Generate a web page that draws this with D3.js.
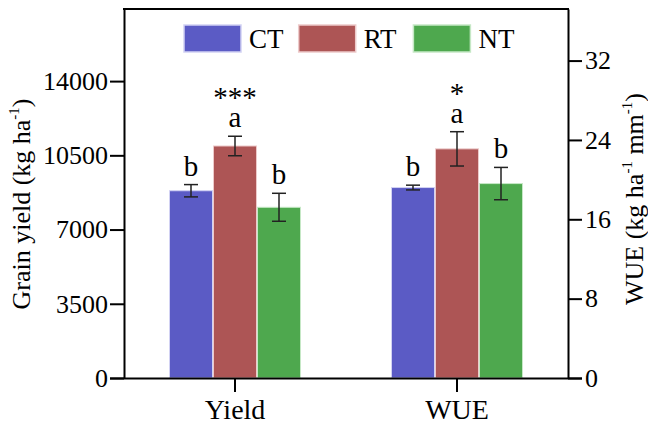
<!DOCTYPE html>
<html>
<head>
<meta charset="utf-8">
<script src="https://cdn.jsdelivr.net/npm/d3@7"></script>
</head>
<body style="margin:0;background:#fff">
<svg id="chart" width="648" height="426" style="display:block"></svg>
<script>
// Grain yield and water use efficiency under three tillage systems
const categories = ["Yield", "WUE"];
const series = ["CT", "RT", "NT"];
const seriesColors = ["#5b5bc5", "#ad5555", "#4ea84e"];
const seriesEdges = ["#d2d2f3", "#edcaca", "#c6e8c6"];

const yieldMean = [8830, 10940, 8050];
const yieldErr = [290, 460, 660];
const wueMean = [19.2, 23.1, 19.6];
const wueErr = [0.24, 1.73, 1.63];

const yieldLetters = ["b", "a", "b"];
const wueLetters = ["b", "a", "b"];
const stars = ["***", "*"];

const leftTicks = [0, 3500, 7000, 10500, 14000];
const rightTicks = [0, 8, 16, 24, 32];

const FONT = "'Liberation Serif', 'Times New Roman', Tinos, serif";

const svg = d3.select("#chart");
const margin = { left: 124, right: 80, top: 9, bottom: 48 };
const W = 648, H = 426;
const x0 = margin.left, x1 = W - margin.right, yTop = margin.top, yBot = H - margin.bottom;

const xGroup = d3.scaleBand().domain(categories).range([x0, x1]).padding(0);
const xSub = d3.scaleBand().domain(series).range([-66, 66]).padding(0);
const yLeft = d3.scaleLinear().domain([0, 17400]).range([yBot, yTop]);
const yRight = d3.scaleLinear().domain([0, 37.2]).range([yBot, yTop]);

// assemble bar records from the arrays
const groups = [
  { cat: "Yield", mean: yieldMean, err: yieldErr, letters: yieldLetters, star: stars[0], y: yLeft },
  { cat: "WUE", mean: wueMean, err: wueErr, letters: wueLetters, star: stars[1], y: yRight }
];
const bars = [];
groups.forEach(g => series.forEach((s, i) => bars.push({
  cat: g.cat, s, i, v: g.mean[i], e: g.err[i], letter: g.letters[i], y: g.y
})));

const cx = d => xGroup(d.cat) + xGroup.bandwidth() / 2 + xSub(d.s) + xSub.bandwidth() / 2;

// bars
svg.append("g").selectAll("rect").data(bars).join("rect")
  .attr("x", d => xGroup(d.cat) + xGroup.bandwidth() / 2 + xSub(d.s) + 0.5)
  .attr("width", xSub.bandwidth() - 1)
  .attr("y", d => d.y(d.v))
  .attr("height", d => d.y(0) - d.y(d.v))
  .attr("fill", d => seriesColors[d.i])
  .attr("stroke", d => seriesEdges[d.i])
  .attr("stroke-width", 1);

// error bars
const eb = svg.append("g").attr("stroke", "#222").attr("stroke-width", 1.5).attr("fill", "none");
bars.forEach(d => {
  const c = cx(d), t = d.y(d.v + d.e), b = d.y(d.v - d.e);
  eb.append("line").attr("x1", c).attr("x2", c).attr("y1", t).attr("y2", b);
  eb.append("line").attr("x1", c - 7).attr("x2", c + 7).attr("y1", t).attr("y2", t);
  eb.append("line").attr("x1", c - 7).attr("x2", c + 7).attr("y1", b).attr("y2", b);
});

// significance letters
svg.append("g").selectAll("text").data(bars).join("text")
  .attr("x", cx)
  .attr("y", d => d.y(d.v + d.e) - 9)
  .attr("text-anchor", "middle")
  .style("font-size", "29px")
  .text(d => d.letter);

// significance stars over the RT bars
groups.forEach(g => {
  const d = bars.find(b => b.cat === g.cat && b.s === "RT");
  svg.append("text")
    .attr("x", cx(d))
    .attr("y", d.y(d.v + d.e) - 9 - 20)
    .attr("text-anchor", "middle")
    .style("font-size", "29px")
    .text(g.star);
});

// top frame line
svg.append("line").attr("x1", x0 - 1).attr("x2", x1 + 1).attr("y1", yTop).attr("y2", yTop)
  .attr("stroke", "#000").attr("stroke-width", 2);

function styleAxis(g, size) {
  g.selectAll("path.domain").attr("stroke", "#000").attr("stroke-width", 2);
  g.selectAll(".tick line").attr("stroke", "#000").attr("stroke-width", 2);
  g.selectAll(".tick text").style("font-size", size + "px");
}

// left axis
svg.append("g").attr("transform", `translate(${x0},0)`)
  .call(d3.axisLeft(yLeft).tickValues(leftTicks).tickSize(14).tickSizeOuter(0).tickPadding(2).tickFormat(d3.format("d")))
  .call(styleAxis, 26);

// right axis
svg.append("g").attr("transform", `translate(${x1},0)`)
  .call(d3.axisRight(yRight).tickValues(rightTicks).tickSize(14).tickSizeOuter(0).tickPadding(3).tickFormat(d3.format("d")))
  .call(styleAxis, 26);

// bottom axis
const bx = svg.append("g").attr("transform", `translate(0,${yBot})`)
  .call(d3.axisBottom(xGroup).tickSize(14).tickSizeOuter(0).tickPadding(7))
  .call(styleAxis, 28);
bx.select("path.domain").attr("d", `M${x0 - 14},0.5H${x1 + 14}`);

// axis titles
const lt = svg.append("text")
  .attr("transform", "translate(30,204) rotate(-90)")
  .attr("text-anchor", "middle")
  .style("font-size", "26px");
lt.append("tspan").text("Grain yield (kg ha");
lt.append("tspan").style("font-size", "15px").attr("dy", -11).text("-1");
lt.append("tspan").attr("dy", 11).text(")");

const rt = svg.append("text")
  .attr("transform", "translate(643,199) rotate(-90)")
  .attr("text-anchor", "middle")
  .style("font-size", "26px");
rt.append("tspan").text("WUE (kg ha");
rt.append("tspan").style("font-size", "15px").attr("dy", -11).text("-1");
rt.append("tspan").attr("dy", 11).text(" mm");
rt.append("tspan").style("font-size", "15px").attr("dy", -11).text("-1");
rt.append("tspan").attr("dy", 11).text(")");

// legend
const legend = svg.append("g");
series.forEach((s, i) => {
  const lx = 184 + i * 114.7;
  legend.append("rect").attr("x", lx).attr("y", 25).attr("width", 57).attr("height", 27)
    .attr("fill", seriesColors[i]).attr("stroke", seriesEdges[i]).attr("stroke-width", 1.5);
  legend.append("text").attr("x", lx + 65).attr("y", 47.5).style("font-size", "27px").text(s);
});

// serif face and black ink for every label
svg.selectAll("text").style("font-family", FONT).attr("fill", "#000");
</script>
</body>
</html>
